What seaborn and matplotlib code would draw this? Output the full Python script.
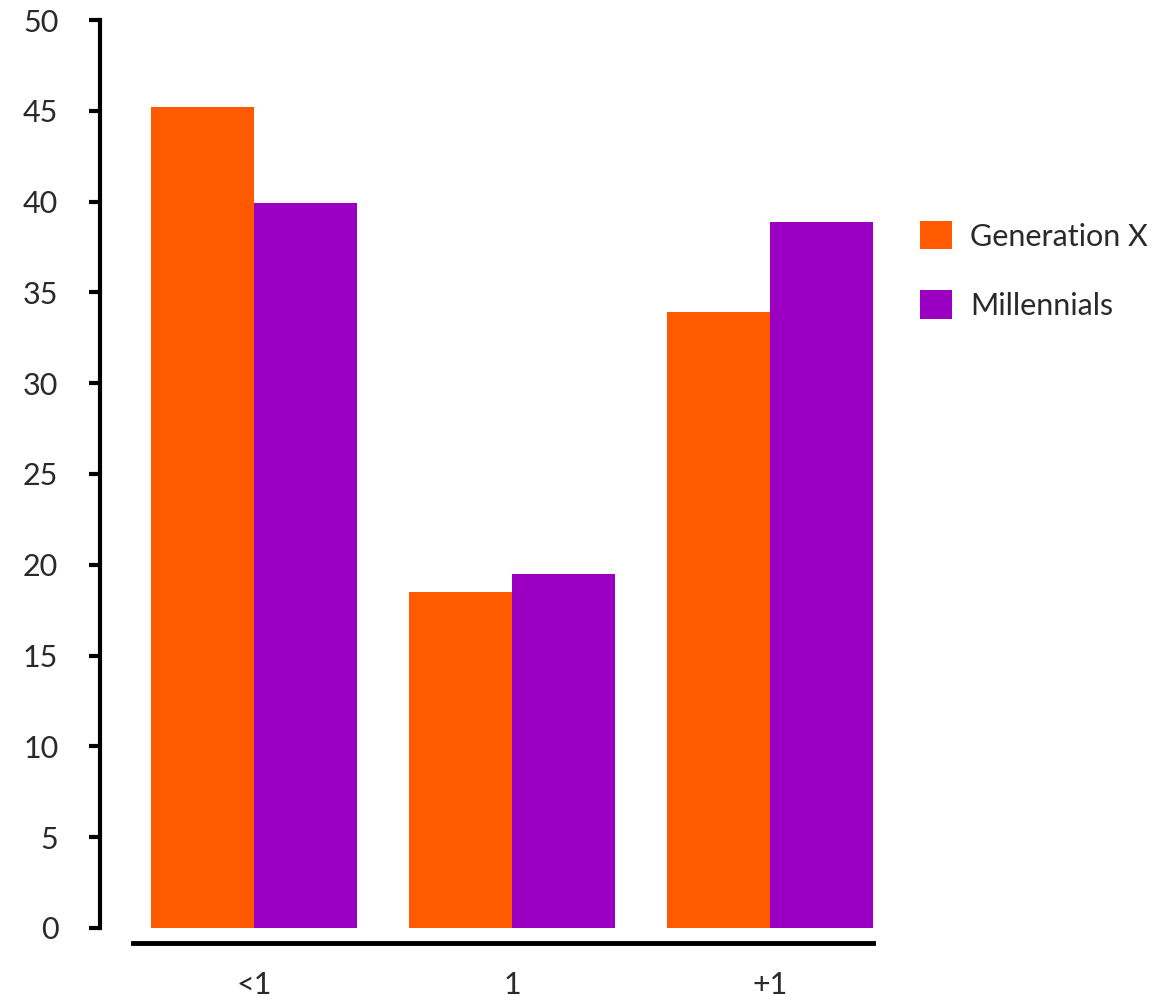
import matplotlib
matplotlib.use('Agg')
import matplotlib.pyplot as plt
import seaborn as sns
import pandas as pd

# data
categories = ['<1', '1', '+1']
gen_x = [45.2, 18.5, 33.9]
millennials = [39.9, 19.5, 38.9]
series_names = ['Generation X', 'Millennials']
colors = ['#FF5A00', '#9B00C2']
y_ticks = [0, 5, 10, 15, 20, 25, 30, 35, 40, 45, 50]

df = pd.DataFrame({
    'Category': categories * 2,
    'Value': gen_x + millennials,
    'Series': [series_names[0]] * 3 + [series_names[1]] * 3,
})

sns.set_theme(style='white')
plt.rcParams['font.family'] = ['Lato', 'DejaVu Sans']
text_color = '#2a2a2a'

fig = plt.figure(figsize=(11.68, 10.06), dpi=100)
ax = fig.add_axes([0.0856, 0.0626, 0.6618, 0.9175])

sns.barplot(data=df, x='Category', y='Value', hue='Series', palette=colors,
            width=0.8, gap=0, saturation=1, linewidth=0, ax=ax)

ax.set_xlim(-0.597, 2.4)
ax.set_ylim(-0.83, 50)
ax.set_yticks(y_ticks)
ax.set_xlabel('')
ax.set_ylabel('')

for s in ['top', 'right']:
    ax.spines[s].set_visible(False)
ax.spines['left'].set_bounds(0, 50)
ax.spines['left'].set_linewidth(3)
ax.spines['left'].set_color('black')
ax.spines['bottom'].set_bounds(-0.47, 2.4)
ax.spines['bottom'].set_linewidth(3.5)
ax.spines['bottom'].set_color('black')

ax.tick_params(axis='y', left=True, length=8, width=3, color='black',
               labelsize=22, labelcolor=text_color, pad=22)
ax.tick_params(axis='x', bottom=False, labelsize=22, labelcolor=text_color, pad=14)

ax.legend(loc='upper left', bbox_to_anchor=(0.7877, 1 - 221 / 1006),
          bbox_transform=fig.transFigure, frameon=False, fontsize=22,
          handlelength=1.05, handleheight=1.05, handletextpad=0.6,
          labelspacing=1.3, borderpad=0, borderaxespad=0,
          labelcolor=text_color)

fig.savefig('out.png', dpi=100)
